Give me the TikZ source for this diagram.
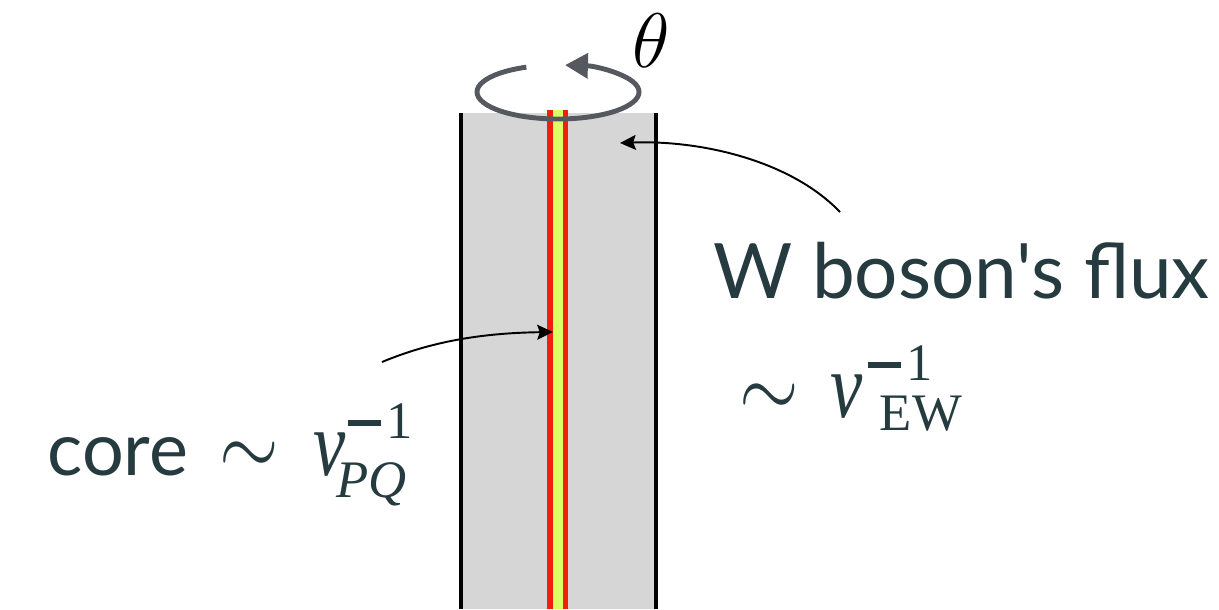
\documentclass[tikz,border=0pt]{standalone}
\usepackage{amsmath}
\usepackage{graphicx}
\usepackage[no-math]{fontspec}
\setmainfont{Lato}[Ligatures=TeXOff]
\newfontfamily\eqfont{Liberation Serif}
\usetikzlibrary{arrows.meta}
\definecolor{inkslate}{HTML}{263B3F}
\definecolor{fluxgray}{HTML}{D6D6D6}
\definecolor{corered}{HTML}{F0200F}
\definecolor{coreyellow}{HTML}{DDFF66}
\definecolor{rotgray}{HTML}{55595F}
% 大号公式（cm 数学字体只到 24.88pt，再放大）
\newcommand{\bigeq}[3]{\scalebox{#1}[#2]{\fontsize{24.88}{30}\selectfont$#3$}}
% v^{-1}_{sub}：#1 上标位置，#2 下标位置（都从 v 左缘量），#3 下标，#4 下标下沉
\newcommand{\vpow}[4]{{\eqfont\fontsize{30}{36}\selectfont
  \makebox[0pt][l]{\scalebox{0.78}[1]{\fontsize{53}{60}\selectfont\itshape v}}%
  \makebox[0pt][l]{\hspace{#1}\raisebox{28pt}{\rule{19pt}{3.4pt}}\hspace{3pt}\raisebox{21pt}{1}}%
  \hspace{#2}\raisebox{-#4}{#3}}}

\begin{document}
\begin{tikzpicture}[x=0.02cm,y=-0.02cm,>=Stealth,
  wall/.style={line width=2.5pt,black},
  pointer/.style={->,line width=1.1pt,>={Stealth[length=9pt,width=8.5pt,inset=1.5pt]}},
  lbl/.style={text=inkslate,inner sep=0pt}]
\useasboundingbox (0,0) rectangle (1219,609);
% ---------- 弦截面：灰色通量管 ----------
\fill[fluxgray] (461,113) rectangle (656,609);
\draw[wall] (461,113) -- (461,609);
\draw[wall] (656,113) -- (656,609);
% 核心（红边黄芯）
\fill[coreyellow] (549,110) rectangle (566,609);
\draw[corered,line width=3.4pt] (550,110) -- (550,609);
\draw[corered,line width=3.4pt] (565.5,110) -- (565.5,609);
% 绕弦旋转箭头与 theta
\draw[rotgray,line width=2.8pt,->,>={Triangle[length=13pt,width=14pt]}]
  (558,92) ++(247:81 and 27) arc[start angle=247,end angle=-85,x radius=81,y radius=27];
\node[inner sep=0pt] (theta) at (651,41) {\bigeq{1.77}{1.77}{\theta}};
% ---------- 标注 ----------
\node[lbl,anchor=base west] (fluxlbl) at (713,298) {\fontsize{43.5}{52}\selectfont W boson's flux};
\node[lbl,anchor=base west] (fluxeq) at (739,417)
  {\makebox[52pt][l]{\bigeq{1.75}{2.1}{\sim}}\vpow{21.2pt}{28pt}{EW}{7.4pt}};
\node[lbl,anchor=base west] (corelbl) at (47,475) {\fontsize{42}{50}\selectfont core};
\node[lbl,anchor=base west] (coreeq) at (219,475)
  {\makebox[53.5pt][l]{\bigeq{1.75}{2.1}{\sim}}\vpow{19.5pt}{13pt}{\itshape PQ}{13pt}};
% 指示箭头
\coordinate (coreTail) at (382,362);
\coordinate (coreTip) at (553,332);
\coordinate (fluxTail) at (840,212);
\coordinate (fluxTip) at (620,143);
\draw[pointer] (coreTail) .. controls (430,342) and (480,333) .. (coreTip);
\draw[pointer] (fluxTail) .. controls (790,160) and (700,140) .. (fluxTip);
\end{tikzpicture}
\end{document}
